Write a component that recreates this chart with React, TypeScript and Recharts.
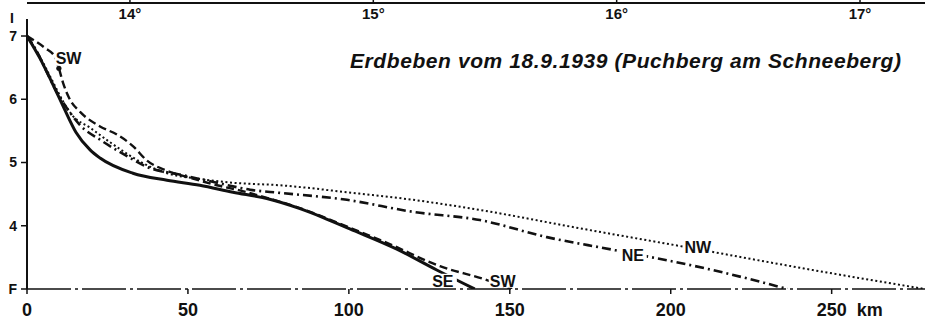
import React from 'react';
import { LineChart, Line, XAxis, YAxis, ReferenceDot, ReferenceLine, Customized } from 'recharts';

// Isoseismal decay: intensity vs. epicentral distance, per direction
const seKm = [0, 4, 7.8, 11.5, 15.2, 19.6, 22.7, 32.9, 43.5, 53.7, 64, 74.5, 84.8, 92, 100.3, 114.9, 127.3, 139.1];
const seInt = [7, 6.65, 6.26, 5.86, 5.48, 5.2, 5.07, 4.83, 4.72, 4.64, 4.53, 4.43, 4.27, 4.13, 3.95, 3.63, 3.3, 3.0];

const swKm = [0, 5.6, 8.7, 9.9, 11.2, 13.4, 16.5, 22.7, 28, 32.9, 37.3, 43.5, 50.6, 59, 66.1, 74.5, 84.8, 92, 100.3, 112.7, 128.3, 142.9, 150];
const swInt = [7, 6.81, 6.67, 6.49, 6.26, 5.99, 5.8, 5.57, 5.44, 5.26, 5.03, 4.87, 4.76, 4.64, 4.56, 4.44, 4.28, 4.14, 3.97, 3.71, 3.36, 3.14, 3.0];
const swMarks = [3, 22];

const neKm = [0, 2.8, 5.6, 9.3, 12.4, 16.5, 22.7, 30.4, 37.3, 48.4, 59, 69.3, 78.6, 99.4, 119.9, 140.7, 161.5, 182, 213, 236.3];
const neInt = [7, 6.78, 6.49, 6.11, 5.86, 5.59, 5.36, 5.12, 4.93, 4.8, 4.68, 4.57, 4.52, 4.41, 4.22, 4.09, 3.82, 3.62, 3.3, 3.0];

const nwKm = [0, 4, 7.8, 11.5, 14, 19.6, 25.8, 36, 43.5, 53.7, 64, 78.6, 99.4, 119.9, 140.7, 171.7, 202.8, 244.1, 278.9];
const nwInt = [7, 6.67, 6.3, 5.94, 5.75, 5.55, 5.32, 4.99, 4.83, 4.74, 4.68, 4.64, 4.53, 4.41, 4.25, 3.96, 3.68, 3.3, 3.0];

const kmTicks = [0, 50, 100, 150, 200, 250];
const intTicks = [3, 4, 5, 6, 7];
const degTicks = [14, 15, 16, 17];

const dirLabels = [
  { text: 'SW', km: 12.9, i: 6.65 },
  { text: 'SE', km: 129.2, i: 3.13 },
  { text: 'SW', km: 147.8, i: 3.13 },
  { text: 'NE', km: 188.2, i: 3.54 },
  { text: 'NW', km: 208.4, i: 3.66 },
];

const title = 'Erdbeben vom 18.9.1939 (Puchberg am Schneeberg)';

const toPts = (km: number[], v: number[]) => km.map((k, idx) => ({ km: k, i: v[idx] }));
const seData = toPts(seKm, seInt);
const swData = toPts(swKm, swInt);
const neData = toPts(neKm, neInt);
const nwData = toPts(nwKm, nwInt);
// invisible series so the longitude axis gets a scale
const degData = degTicks.map((d) => ({ deg: d, i: 3 }));

const FONT = '"Liberation Sans", Arial, sans-serif';
const INK = '#111';

function KmTick(props: any) {
  const { x, y, payload } = props;
  const last = payload.value === kmTicks[kmTicks.length - 1];
  return (
    <g>
      <text x={x} y={y} dy="0.71em" textAnchor="middle" fontFamily={FONT} fontWeight={700} fontSize={18} fill={INK}>
        {payload.value}
      </text>
      {last && (
        <text x={x + 25} y={y} dy="0.71em" textAnchor="start" fontFamily={FONT} fontWeight={700} fontSize={18} fill={INK}>
          km
        </text>
      )}
    </g>
  );
}

// top axis labels sit below the axis line, as in the printed figure
function DegTick(props: any) {
  const { x, y, payload } = props;
  return (
    <text x={x} y={y + 9} dy="0.71em" textAnchor="middle" fontFamily={FONT} fontWeight={700} fontSize={15} fill={INK}>
      {payload.value}°
    </text>
  );
}

function DirLabel(props: any) {
  const { viewBox, value } = props;
  const cx = viewBox.x + viewBox.width / 2;
  const cy = viewBox.y + viewBox.height / 2;
  const w = value.length * 13;
  return (
    <g>
      <rect x={cx - w / 2 - 1} y={cy - 7} width={w + 2} height={14} fill="#fff" />
      <text x={cx} y={cy} dy="0.36em" textAnchor="middle" fontFamily={FONT} fontWeight={700} fontSize={16} fill={INK}>
        {value}
      </text>
    </g>
  );
}

function SwDot(p: any) {
  if (swMarks.includes(p.index)) {
    return <circle key={`sw${p.index}`} cx={p.cx} cy={p.cy} r={2.6} fill={INK} />;
  }
  return <g key={`sw${p.index}`} />;
}

export default function App() {
  return (
    <div style={{ position: 'absolute', left: 0, top: 0, background: '#fff' }}>
      <LineChart width={927} height={320} margin={{ top: 2, right: 2, bottom: 0, left: 0 }}>
        <XAxis
          xAxisId={0}
          type="number"
          dataKey="km"
          domain={[0, 279]}
          allowDataOverflow
          ticks={kmTicks}
          interval={0}
          height={31}
          tickSize={5}
          tickMargin={9}
          axisLine={{ stroke: INK, strokeWidth: 1.5, strokeDasharray: '44 4 3 4' }}
          tickLine={{ stroke: INK, strokeWidth: 1.5 }}
          tick={<KmTick />}
        />
        <XAxis
          xAxisId="deg"
          orientation="top"
          type="number"
          dataKey="deg"
          domain={[13.577, 17.267]}
          allowDataOverflow
          ticks={degTicks}
          interval={0}
          height={1}
          tickSize={4}
          tickMargin={0}
          tickLine={{ stroke: INK, strokeWidth: 1.5 }}
          axisLine={{ stroke: INK, strokeWidth: 2 }}
          tick={<DegTick />}
        />
        <YAxis
          type="number"
          domain={[3, 7.522]}
          allowDataOverflow
          ticks={intTicks}
          interval={0}
          width={27}
          tickSize={6}
          tickMargin={4}
          axisLine={false}
          tickLine={{ stroke: INK, strokeWidth: 1.5 }}
          tickFormatter={(v: number) => (v === 3 ? 'F' : String(v))}
          tick={{ fill: INK, fontSize: 14, fontWeight: 700, fontFamily: FONT }}
          label={{
            value: 'I',
            content: (lp: any) => (
              <text x={lp.viewBox.x + 12} y={lp.viewBox.y + 20} textAnchor="middle" fontFamily={FONT} fontWeight={700} fontSize={14} fill={INK}>
                I
              </text>
            ),
          }}
        />
        <ReferenceLine
          segment={[{ x: 0, y: 3 }, { x: 0, y: 7.27 }]}
          stroke={INK}
          strokeWidth={2}
          ifOverflow="visible"
        />
        <Line xAxisId="deg" data={degData} dataKey="i" stroke="none" dot={false} isAnimationActive={false} />
        <Line data={nwData} dataKey="i" type="monotone" stroke={INK} strokeWidth={2} strokeDasharray="2 2.6" dot={false} isAnimationActive={false} />
        <Line data={neData} dataKey="i" type="monotone" stroke={INK} strokeWidth={2.6} strokeDasharray="9 4 2 4" dot={false} isAnimationActive={false} />
        <Line data={swData} dataKey="i" type="monotone" stroke={INK} strokeWidth={2.4} strokeDasharray="8 4" dot={<SwDot />} isAnimationActive={false} />
        <Line data={seData} dataKey="i" type="monotone" stroke={INK} strokeWidth={3} dot={false} isAnimationActive={false} />
        {dirLabels.map((d, idx) => (
          <ReferenceDot key={idx} x={d.km} y={d.i} r={0} fill="none" stroke="none" ifOverflow="visible" label={<DirLabel value={d.text} />} />
        ))}
        <Customized
          component={() => (
            <text x={350} y={68} textLength={551} lengthAdjust="spacing" fontFamily={FONT} fontStyle="italic" fontWeight={700} fontSize={21} fill={INK}>
              {title}
            </text>
          )}
        />
      </LineChart>
    </div>
  );
}
